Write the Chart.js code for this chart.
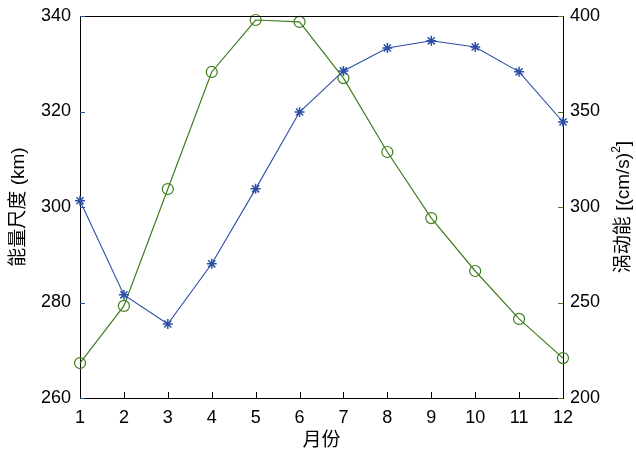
<!DOCTYPE html>
<html><head><meta charset="utf-8">
<script src="https://cdn.jsdelivr.net/npm/chart.js@4/dist/chart.umd.min.js"></script>
<style>html,body{margin:0;padding:0;background:#fff}#wrap{width:636px;height:456px}</style>
</head><body><div id="wrap"><canvas id="c" width="636" height="456"></canvas></div>
<script>
const months = ['1','2','3','4','5','6','7','8','9','10','11','12'];
const scaleKm = [301.3, 281.6, 275.5, 288.1, 303.8, 319.9, 328.5, 333.3, 334.8, 333.5, 328.3, 317.8];
const eke = [218.3, 248.2, 309.4, 370.7, 397.9, 396.9, 367.5, 328.8, 294.2, 266.5, 241.4, 220.9];
const leftTicks = [260, 280, 300, 320, 340];
const rightTicks = [200, 250, 300, 350, 400];

const BLUE = '#2b4ea6';
const GREEN = '#3f7d1f';
const FONT = 'Liberation Sans, Arial, "Noto Sans CJK SC", sans-serif';

const frame = {
  id: 'frame',
  afterDraw(chart) {
    const ctx = chart.ctx, a = chart.chartArea;
    ctx.save();
    ctx.strokeStyle = '#000'; ctx.lineWidth = 1;
    ctx.beginPath(); ctx.moveTo(a.left, Math.round(a.top) + 0.5); ctx.lineTo(a.right, Math.round(a.top) + 0.5); ctx.stroke();
    const x = chart.scales.x, y = chart.scales.y, y1 = chart.scales.y1;
    ctx.beginPath();
    x.ticks.forEach(t => { const px = Math.round(x.getPixelForValue(t.value)) + 0.5; ctx.moveTo(px, a.bottom); ctx.lineTo(px, a.bottom - 6); });
    ctx.stroke();
    ctx.strokeStyle = BLUE; ctx.beginPath();
    y.ticks.forEach(t => { const py = Math.round(y.getPixelForValue(t.value)) + 0.5; ctx.moveTo(a.left, py); ctx.lineTo(a.left + 5, py); });
    ctx.stroke();
    ctx.strokeStyle = GREEN; ctx.beginPath();
    y1.ticks.forEach(t => { const py = Math.round(y1.getPixelForValue(t.value)) + 0.5; ctx.moveTo(a.right, py); ctx.lineTo(a.right - 5, py); });
    ctx.stroke();
    // right axis title, reading bottom to top, with superscript
    ctx.fillStyle = '#000';
    const main = '涡动能 [(cm/s)', sup = '2', tail = ']';
    const big = '19px ' + FONT, small = '12px ' + FONT;
    ctx.font = big; const w1 = ctx.measureText(main).width, w3 = ctx.measureText(tail).width;
    ctx.font = small; const w2 = ctx.measureText(sup).width;
    const total = w1 + w2 + w3;
    ctx.translate(624, (a.top + a.bottom) / 2);
    ctx.rotate(-Math.PI / 2);
    ctx.textAlign = 'left'; ctx.textBaseline = 'middle';
    let sx = -total / 2;
    ctx.font = big; ctx.fillText(main, sx, 0); sx += w1;
    ctx.font = small; ctx.fillText(sup, sx, -7); sx += w2;
    ctx.font = big; ctx.fillText(tail, sx, 0);
    ctx.restore();
  }
};

function noPad(s) { s.paddingTop = 0; s.paddingBottom = 0; }

new Chart(document.getElementById('c'), {
  type: 'line',
  data: {
    labels: months,
    datasets: [
      { label: '能量尺度', data: scaleKm, yAxisID: 'y', borderColor: BLUE, backgroundColor: BLUE, clip: false,
        borderWidth: 1.1, pointStyle: 'star', pointRadius: 5, pointBorderWidth: 1.5, pointBorderColor: BLUE, tension: 0 },
      { label: '涡动能', data: eke, yAxisID: 'y1', borderColor: GREEN, backgroundColor: 'rgba(0,0,0,0)', clip: false,
        borderWidth: 1.2, pointStyle: 'circle', pointRadius: 5.5, pointBorderWidth: 1.2, pointBorderColor: GREEN, tension: 0 }
    ]
  },
  options: {
    responsive: false, animation: false, devicePixelRatio: 1,
    layout: { padding: { top: 16, left: 0, right: 0, bottom: 0 } },
    plugins: { legend: { display: false }, tooltip: { enabled: false } },
    scales: {
      x: {
        offset: false,
        grid: { display: false, drawTicks: false },
        border: { display: true, color: '#000', width: 1 },
        ticks: { color: '#000', font: { size: 18, family: FONT }, padding: 9, maxRotation: 0 },
        title: { display: true, text: '月份', color: '#000', font: { size: 19, family: FONT }, padding: { top: 0 } },
        afterFit(s) { s.height = 58; }
      },
      y: {
        position: 'left', min: 260, max: 340,
        afterBuildTicks(s) { s.ticks = leftTicks.map(v => ({ value: v })); },
        grid: { display: false, drawTicks: false },
        border: { display: true, color: '#000', width: 1 },
        ticks: { color: '#000', font: { size: 18, family: FONT }, padding: 9 },
        title: { display: true, text: '能量尺度 (km)', color: '#000', font: { size: 19, family: FONT }, padding: { top: 7, bottom: 0 } },
        afterFit(s) { s.width = 80; noPad(s); }
      },
      y1: {
        position: 'right', min: 200, max: 400,
        afterBuildTicks(s) { s.ticks = rightTicks.map(v => ({ value: v })); },
        grid: { display: false, drawTicks: false },
        border: { display: true, color: '#000', width: 1 },
        ticks: { color: '#000', font: { size: 18, family: FONT }, padding: 7 },
        afterFit(s) { s.width = 73; noPad(s); }
      }
    }
  },
  plugins: [frame]
});
</script></body></html>
